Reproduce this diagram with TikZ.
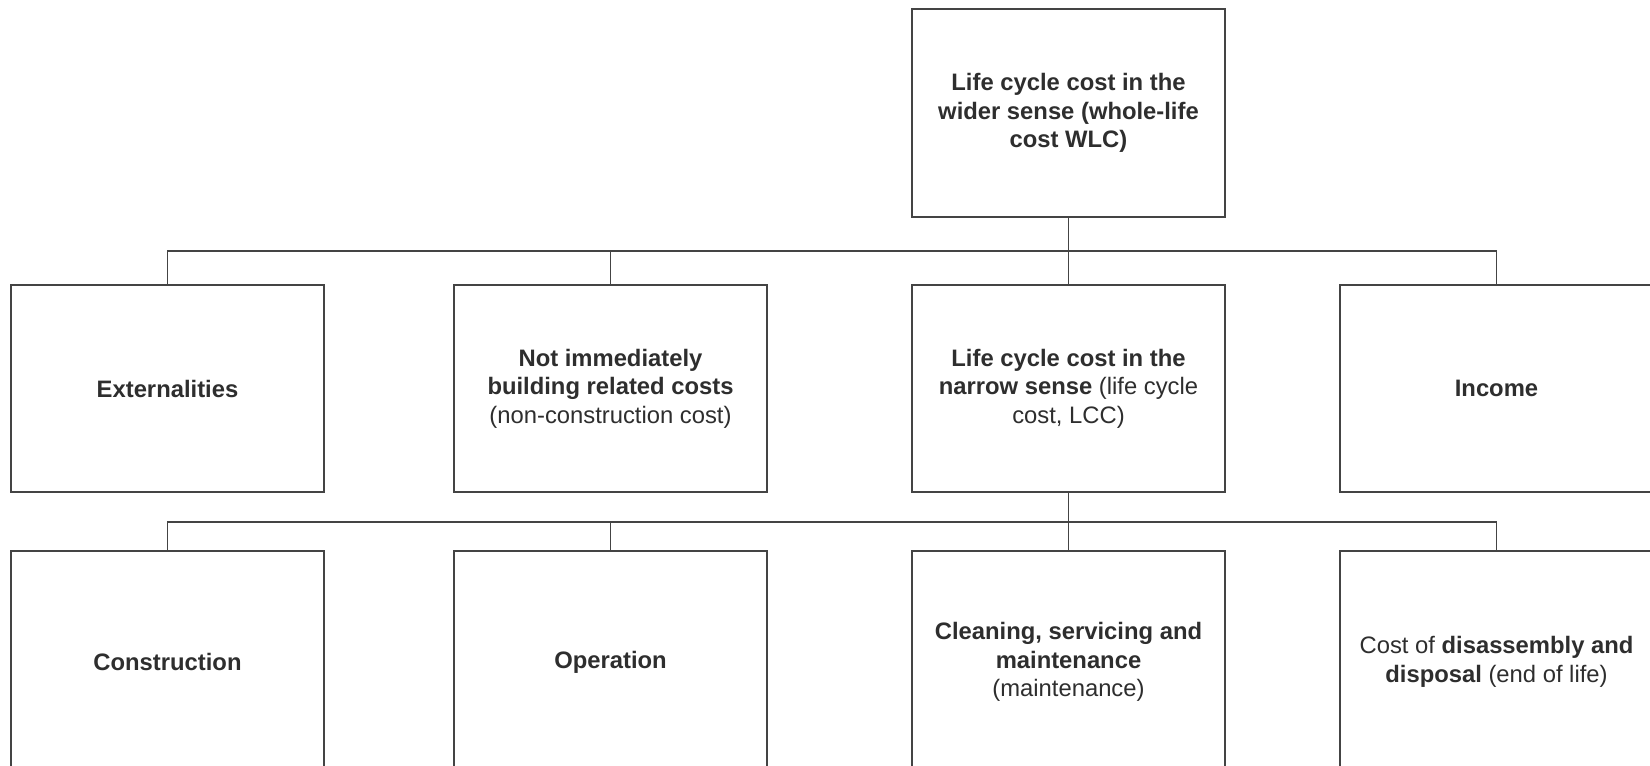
\documentclass[tikz,border=0pt]{standalone}
\usepackage{fontspec}
\setmainfont{Liberation Sans}
\definecolor{linec}{HTML}{444444}
\definecolor{textc}{HTML}{2E2E2E}
\begin{document}
\begin{tikzpicture}[x=0.5pt,y=-0.5pt,
  box/.style={draw=linec, line width=0.9pt, rectangle, minimum width=156.5pt, align=center,
    text=textc, font=\fontsize{11.9}{14.2}\selectfont, inner sep=0pt},
  rowa/.style={box, minimum height=103.5pt},
  rowb/.style={box, minimum height=111pt},
  conn/.style={draw=linec, line width=0.9pt}]
\clip (0,0) rectangle (1650,766);
\fill[white] (0,0) rectangle (1650,766);
% top
\node[box, minimum height=104pt] (wlc) at (1068.5,113) {\textbf{Life cycle cost in the}\\\textbf{wider sense (whole-life}\\\textbf{cost WLC)}};
% row 2
\node[rowa] (ext) at (167.5,388.5) {\textbf{Externalities}};
\node[rowa] (nic) at (610.5,388.5) {\textbf{Not immediately}\\\textbf{building related costs}\\(non-construction cost)};
\node[rowa] (lcc) at (1068.5,388.5) {\textbf{Life cycle cost in the}\\\textbf{narrow sense} (life cycle\\cost, LCC)};
\node[rowa] (inc) at (1496.5,388.5) {\textbf{Income}};
% row 3
\node[rowb] (con) at (167.5,662) {\textbf{Construction}};
\node[rowb] (ope) at (610.5,662) {\textbf{Operation}};
\node[rowb] (csm) at (1068.5,662) {\textbf{Cleaning, servicing and}\\\textbf{maintenance}\\(maintenance)};
\node[rowb] (dis) at (1496.5,662) {Cost of \textbf{disassembly and}\\\textbf{disposal} (end of life)};
% junctions
\coordinate (j1) at (1068.5,251);
\coordinate (j2) at (1068.5,522);
\draw[conn] (wlc.south) -- (j1);
\draw[conn] (ext.north) |- (j1) -| (inc.north);
\draw[conn] (nic.north) -- (nic.north |- j1);
\draw[conn] (j1) -- (lcc.north);
\draw[conn] (lcc.south) -- (j2);
\draw[conn] (con.north) |- (j2) -| (dis.north);
\draw[conn] (ope.north) -- (ope.north |- j2);
\draw[conn] (j2) -- (csm.north);
\end{tikzpicture}
\end{document}
